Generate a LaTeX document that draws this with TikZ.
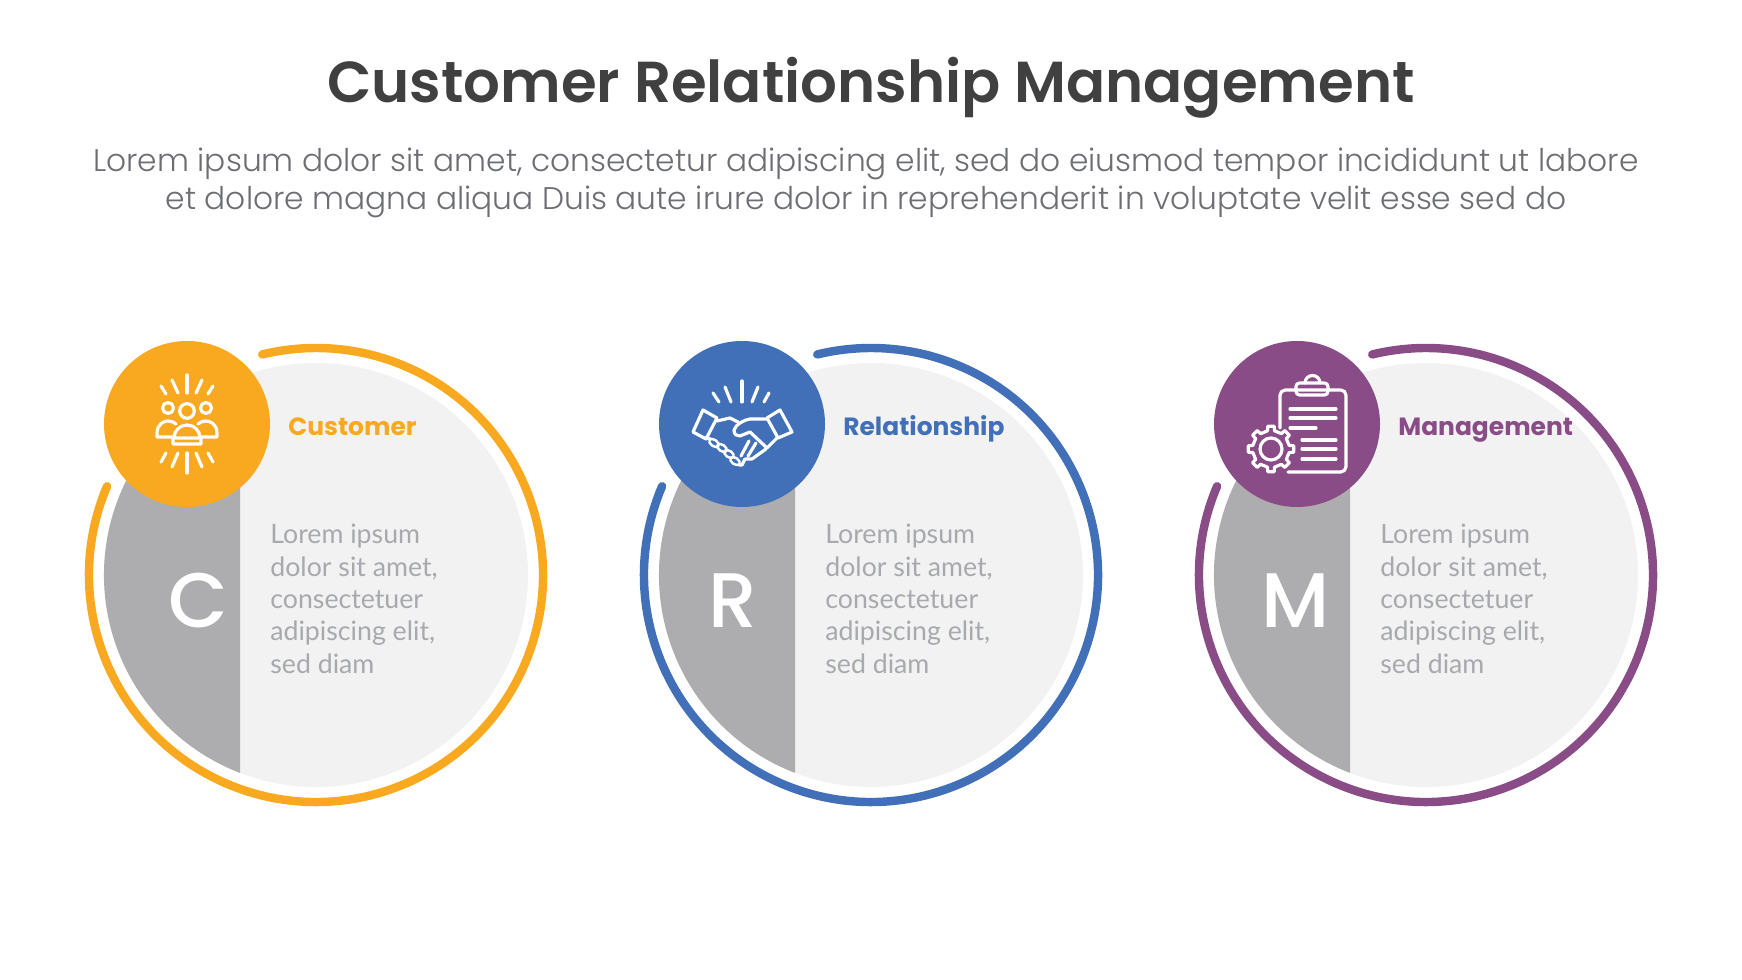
\documentclass[tikz,border=0pt]{standalone}
\usepackage{fontspec}
\setmainfont{Lato}
\newfontfamily\titlefont{Poppins SemiBold}
\newfontfamily\introfont{Poppins Light}
\newfontfamily\wordfont{Poppins}[UprightFont=* Bold]
\newfontfamily\letterfont{Poppins Medium}
\definecolor{crmorange}{HTML}{F9A91F}
\definecolor{crmblue}{HTML}{4170B8}
\definecolor{crmpurple}{HTML}{8A4C86}
\definecolor{crmdark}{HTML}{404040}
\definecolor{crmintro}{HTML}{6D6E71}
\definecolor{crmlight}{HTML}{F2F2F3}
\definecolor{crmgrey}{HTML}{ADADAF}
\definecolor{crmtext}{HTML}{A7A9AC}
\tikzset{
  disk/.style={circle,fill=crmlight,minimum size=424*0.02cm,inner sep=0pt},
  badge/.style={circle,minimum size=166*0.02cm,inner sep=0pt},
  ring/.style={line width=4.8pt,line cap=round},
  icon/.style={draw=white,line width=1.8pt,line cap=round,line join=round},
  word/.style={anchor=base west,inner sep=0pt,font=\wordfont\fontsize{14.2}{17}\selectfont},
  lorem/.style={anchor=north west,inner sep=0pt,align=left,text=crmtext,font=\fontsize{15.2}{18.4}\selectfont},
  letter/.style={anchor=base,inner sep=0pt,text=white,font=\letterfont\fontsize{44}{50}\selectfont}
}
\begin{document}
\begin{tikzpicture}[x=0.02cm,y=0.02cm]
    \useasboundingbox (0,0) rectangle (1742,980);
    \node[inner sep=0pt,anchor=base,text=crmdark,font=\titlefont\fontsize{32.9}{38}\selectfont] (title) at (871,877) {Customer Relationship Management};
    \node[inner sep=0pt,align=center,text=crmintro,font=\introfont\fontsize{17.8}{21.7}\selectfont] (intro) at (866,797) {Lorem ipsum dolor sit amet, consectetur adipiscing elit, sed do eiusmod tempor incididunt ut labore\\et dolore magna aliqua Duis aute irure dolor in reprehenderit in voluptate velit esse sed do};
    \foreach \cx/\colr/\ltr/\ldx/\wrd in {316/crmorange/C/-118/Customer,871/crmblue/R/-138/Relationship,1426/crmpurple/M/-130/Management}{
      \node[disk] (disk\ltr) at (\cx,405) {};
      \fill[crmgrey] (\cx,405) ++(111:212) arc[start angle=111,end angle=249,radius=212] -- cycle;
      \draw[ring,\colr] (\cx,405) ++(157:227) arc[start angle=157,end angle=463.7,radius=227];
      \node[badge,fill=\colr] (badge\ltr) at (\cx-129,556) {};
      \node[word,text=\colr] (word\ltr) at (\cx-28,544) {\wrd};
      \node[lorem] (body\ltr) at (\cx-46,456) {Lorem ipsum\\dolor sit amet,\\consectetuer\\adipiscing elit,\\sed diam};
      \node[letter] (letter\ltr) at (\cx+\ldx,352) {\ltr};
    }
    % people icon
    \begin{scope}[shift={(badgeC.center)},icon]
      \draw (0,49) -- (0,31);
      \draw (0,-29) -- (0,-49);
      \foreach \s in {1,-1}{
        \draw (\s*15,44) -- (\s*9,31);
        \draw (\s*26,38) -- (\s*21,30);
        \draw (\s*9,-29) -- (\s*15,-43);
        \draw (\s*21,-29) -- (\s*26,-38);
        \draw (\s*19,16) circle (5.5);
        \draw (\s*14,-13) -- (\s*30,-13) -- (\s*30,-9) .. controls (\s*30,0) and (\s*23,3) .. (\s*19,3) .. controls (\s*16,3) and (\s*13,2) .. (\s*11,0);
      }
      \draw (0,13) circle (7.3);
      \draw (-14,-14) -- (-14,-20) -- (14,-20) -- (14,-14) -- (-13,-14) arc[start angle=180,end angle=0,radius=13];
    \end{scope}
    % handshake icon
    \begin{scope}[shift={(badgeR.center)},icon]
      \draw (0,43) -- (0,22);
      \draw (-17,37) -- (-11,22);
      \draw (16,37) -- (10,22);
      \draw (-29,31) -- (-23,22);
      \draw (27,31) -- (22,22);
      \draw (-39,14) -- (-25,6) -- (-36,-15) -- (-49,-8) -- cycle;
      \draw (38,14) -- (25,6) -- (36,-14) -- (50,-8) -- cycle;
      \draw (25,5) -- (8,5) .. controls (2,4) and (-6,0) .. (-8,-6) .. controls (-8,-11) and (-5,-12) .. (-2,-12) -- (8,-8) -- (25,-24) -- (36,-13);
      \draw (-25,3) -- (-12,6) -- (-4,2);
      \draw (-36,-13) -- (-32,-15);
      \foreach \fx/\fy in {-28/-19,-20/-24,-13/-30,-7/-37}
        \draw[line width=1.4pt,rotate around={-35:(\fx,\fy)}] (\fx,\fy) ellipse (5.5 and 3.2);
      \draw (-3,-41) -- (0,-41) -- (3,-35) -- (10,-35) -- (24,-25);
      \draw (-1,-32) -- (7,-17);
      \draw (6,-32) -- (14,-19);
    \end{scope}
    % clipboard icon
    \begin{scope}[shift={(badgeM.center)},icon]
      \draw[rounded corners=3] (-17,-4) -- (-17,34) -- (49,34) -- (49,-48) -- (-9,-48);
      \draw[rounded corners=2] (-1,41) -- (-1,29) -- (31,29) -- (31,41) -- cycle;
      \draw (8,41) arc[start angle=180,end angle=0,radius=7.5];
      \draw (-7,15) -- (39,15);
      \draw (-7,6) -- (39,6);
      \draw (-7,-4) -- (19,-4);
      \draw (5,-16) -- (39,-16);
      \draw (5,-25) -- (39,-25);
      \draw (5,-35) -- (39,-35);
      \begin{scope}[shift={(-26,-25)}]
        \draw (0,0) circle (11);
        \draw (-11:18.5) \foreach \a in {0,45,...,315}{ -- (\a-11:18.5) -- (\a-8:23) -- (\a+8:23) -- (\a+11:18.5) } -- cycle;
      \end{scope}
    \end{scope}
\end{tikzpicture}
\end{document}
